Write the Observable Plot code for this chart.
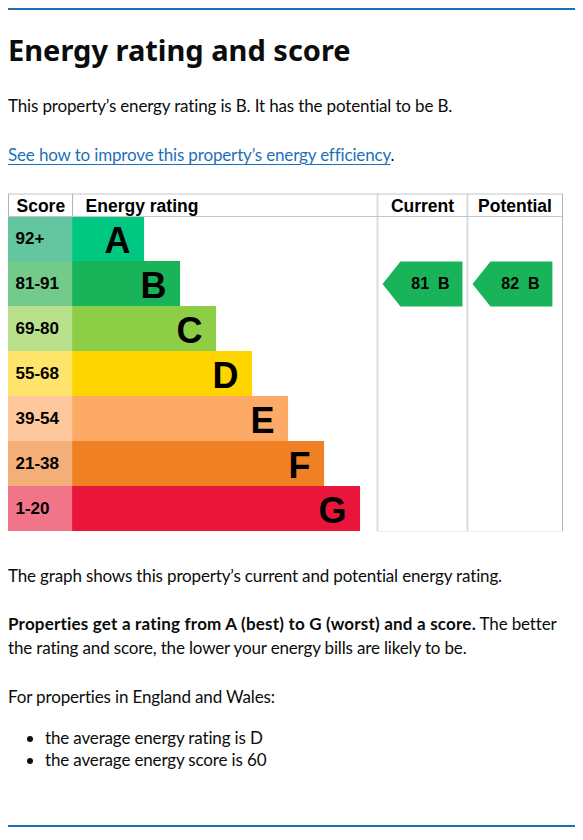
<!DOCTYPE html>
<html>
<head>
<meta charset="utf-8">
<script src="https://cdn.jsdelivr.net/npm/d3@7"></script>
<script src="https://cdn.jsdelivr.net/npm/@observablehq/plot@0.6"></script>
<style>
html, body { margin: 0; padding: 0; background: #fff; }
body { width: 583px; height: 840px; position: relative; overflow: hidden; font-family: Lato, "Noto Sans", sans-serif; color: #0b0c0c; }
.rule { position: absolute; left: 8px; width: 567px; height: 2px; background: #1d70b8; }
.t { position: absolute; left: 8px; margin: 0; white-space: nowrap; font-size: 17px; line-height: 22px; letter-spacing: -0.15px; }
.t b { letter-spacing: 0.2px; }
h1 { position: absolute; left: 8px; top: 31.5px; margin: 0; font-family: "Noto Sans", sans-serif; font-size: 29px; line-height: 36px; font-weight: 700; white-space: nowrap; }
a { color: #1d70b8; text-decoration: underline; text-decoration-thickness: 1px; text-underline-offset: 3px; }
ul { position: absolute; left: 8px; top: 727px; margin: 0; padding: 0 0 0 37px; font-size: 17px; line-height: 22px; letter-spacing: -0.15px; list-style: none; }
li { position: relative; white-space: nowrap; }
li::before { content: ""; position: absolute; left: -18px; top: 9.3px; width: 6px; height: 6px; border-radius: 50%; background: #0b0c0c; }
#chart { position: absolute; left: 0; top: 180px; }
</style>
</head>
<body>
<div class="rule" style="top:8px"></div>
<h1>Energy rating and score</h1>
<p class="t" style="top:94.5px">This property’s energy rating is B. It has the potential to be B.</p>
<p class="t" style="top:143.5px"><a href="#">See how to improve this property’s energy efficiency</a>.</p>
<div id="chart"></div>
<p class="t" style="top:564.5px">The graph shows this property’s current and potential energy rating.</p>
<p class="t" style="top:612.4px;line-height:23.5px"><b>Properties get a rating from A (best) to G (worst) and a score.</b> The better<br>the rating and score, the lower your energy bills are likely to be.</p>
<p class="t" style="top:685.7px">For properties in England and Wales:</p>
<ul>
<li>the average energy rating is D</li>
<li>the average energy score is 60</li>
</ul>
<div class="rule" style="top:825px"></div>
<script>
// ---- data ----
const ratings = ["A", "B", "C", "D", "E", "F", "G"];
const scoreRanges = ["92+", "81-91", "69-80", "55-68", "39-54", "21-38", "1-20"];
const bandMinScores = [92, 81, 69, 55, 39, 21, 1];
const columnHeaders = ["Score", "Energy rating", "Current", "Potential"];
const currentScore = 81;
const potentialScore = 82;

// ---- styles ----
const barColors = ["#00c781", "#19b459", "#8dce46", "#ffd500", "#fcaa65", "#ef8023", "#e9153b"];
const scoreColors = ["#63c6a1", "#72cb8b", "#b9e08a", "#ffe46c", "#fec89c", "#f4ae78", "#f27489"];
const labelFont = "'Liberation Sans', Arial, sans-serif";

// ---- layout (in x-scale units, one unit = one bar step) ----
const scoreStart = -1.78, ratingStart = 0, currentStart = 8.47, potentialStart = 10.97, tableEnd = 13.61;

const rows = ratings.map((r, i) => ({rating: r, range: scoreRanges[i], rank: i + 1, bar: barColors[i], cell: scoreColors[i]}));
const rankOf = (s) => bandMinScores.findIndex((m) => s >= m) + 1;

function arrow(score, colStart, which) {
  const r = rankOf(score);
  const p = colStart + 0.14, n = colStart + 0.64, e = colStart + 2.36;
  return [
    {x: p, y: r, which}, {x: n, y: r - 0.5, which}, {x: e, y: r - 0.5, which},
    {x: e, y: r + 0.5, which}, {x: n, y: r + 0.5, which}, {x: p, y: r, which}
  ];
}
const arrows = [
  {score: currentScore, col: currentStart, which: "current"},
  {score: potentialScore, col: potentialStart, which: "potential"}
].map((a) => ({...a, rank: rankOf(a.score), rating: ratings[rankOf(a.score) - 1], color: barColors[rankOf(a.score) - 1]}));

const headers = [
  {label: columnHeaders[0], x: scoreStart, anchor: "start", dx: 8},
  {label: columnHeaders[1], x: ratingStart, anchor: "start", dx: 13},
  {label: columnHeaders[2], x: (currentStart + potentialStart) / 2, anchor: "middle", dx: 0},
  {label: columnHeaders[3], x: (potentialStart + tableEnd) / 2, anchor: "middle", dx: 0}
];

const plot = Plot.plot({
  width: 583,
  height: 360,
  x: {domain: [scoreStart, tableEnd], range: [8, 562], axis: null},
  y: {domain: [0, 7.5], range: [13.5, 351], axis: null},
  color: {type: "identity"},
  marks: [
    Plot.rect(rows, {x1: () => scoreStart, x2: () => ratingStart, y1: (d) => d.rank - 0.5, y2: (d) => d.rank + 0.5, fill: "cell"}),
    Plot.rect(rows, {x1: () => ratingStart, x2: (d) => d.rank + 1, y1: (d) => d.rank - 0.5, y2: (d) => d.rank + 0.5, fill: "bar"}),
    Plot.ruleX([currentStart, potentialStart], {y1: 0, y2: 7.5, stroke: "#dcdcdc", strokeWidth: 2}),
    Plot.ruleX([tableEnd], {y1: 0, y2: 7.5, stroke: "#b1b4b6"}),
    Plot.ruleX([scoreStart, ratingStart], {y1: 0, y2: 0.5, stroke: "#b1b4b6"}),
    Plot.ruleY([0, 0.5], {x1: scoreStart, x2: tableEnd, stroke: "#c4c6c7"}),
    Plot.ruleY([7.5], {x1: currentStart, x2: tableEnd, stroke: "#eeeeee"}),
    Plot.text(rows, {x: (d) => d.rank + 1, y: "rank", text: "rating", textAnchor: "end", dx: -14, dy: 2, fontSize: 36, fontWeight: "bold", fontFamily: labelFont, fill: "#000"}),
    Plot.text(rows, {x: () => scoreStart, y: "rank", text: "range", textAnchor: "start", dx: 7, fontSize: 17, fontWeight: "bold", fontFamily: labelFont, fill: "#000"}),
    ...headers.map((h) => Plot.text([h], {x: "x", y: () => 0.25, text: "label", textAnchor: h.anchor, dx: h.dx, dy: 1.5, fontSize: 17.5, fontWeight: "bold", fontFamily: labelFont, fill: "#000"})),
    ...arrows.map((a) => Plot.line(arrow(a.score, a.col, a.which), {x: "x", y: "y", z: "which", fill: a.color, stroke: "none"})),
    Plot.text(arrows, {x: (d) => d.col + 1.47, y: "rank", text: (d) => `${d.score}\u00a0\u00a0${d.rating}`, fontSize: 16, fontWeight: "bold", fontFamily: labelFont, fill: "#000"})
  ]
});
document.getElementById("chart").appendChild(plot);
</script>
</body>
</html>
